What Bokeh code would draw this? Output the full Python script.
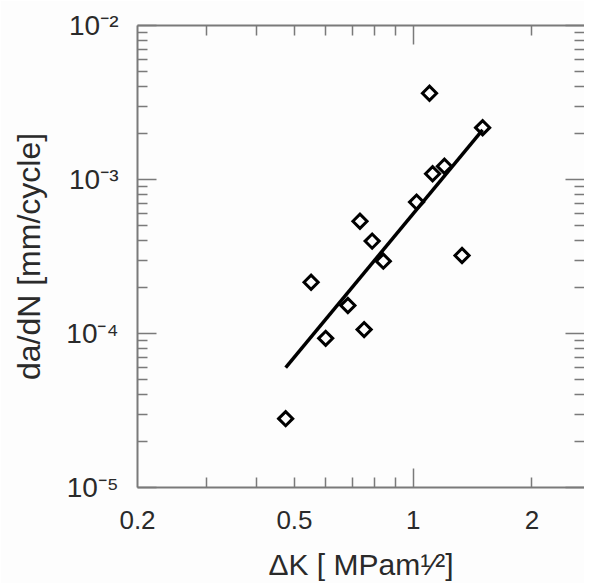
import numpy as np
from bokeh.plotting import figure
from bokeh.models import Range1d, LogAxis, FixedTicker
from bokeh.embed import file_html
from bokeh.resources import INLINE

# ---- data ----
delta_K = [0.475, 0.551, 0.600, 0.683, 0.733, 0.751, 0.787, 0.840,
           1.02, 1.10, 1.12, 1.20, 1.33, 1.50]
da_dN = [2.8e-5, 2.15e-4, 9.3e-5, 1.52e-4, 5.36e-4, 1.06e-4, 3.98e-4, 2.95e-4,
         7.13e-4, 3.63e-3, 1.09e-3, 1.22e-3, 3.21e-4, 2.17e-3]
fit_K = [0.475, 1.50]
fit_rate = [6.0e-5, 2.1e-3]

x_label_values = [0.2, 0.5, 1, 2]
x_label_texts = ["0.2", "0.5", "1", "2"]
x_major_ticks = [1]
x_minor_ticks = [0.3, 0.4, 0.5, 0.6, 0.7, 0.8, 0.9, 2]
y_exponents = [-5, -4, -3, -2]
y_label_texts = ["10\u207b\u2075", "10\u207b\u2074", "10\u207b\u00b3", "10\u207b\u00b2"]
y_mantissas = [2, 3, 4, 5, 6, 7, 8, 9]
x_title = "\u0394K [ MPam\u00b9\u2044\u00b2]"
y_title = "da/dN [mm/cycle]"

# ---- layout ----
FONT = "Liberation Sans"
TXT = "#2a2a2a"
AX = "#7a7a7a"
BG = "#fdfdfd"
FW, FH = 447, 462
DECADE_PX = 394.4
x_end = 0.2 * 10 ** (FW / DECADE_PX)

p = figure(width=584, height=576, frame_width=FW, frame_height=FH,
           x_axis_type="log", y_axis_type="log",
           x_range=Range1d(0.2, x_end), y_range=Range1d(1e-5, 1e-2),
           output_backend="svg", toolbar_location=None,
           min_border_left=137, min_border_top=25, min_border_bottom=89,
           min_border_right=0)
p.background_fill_color = BG
p.border_fill_color = BG
p.outline_line_color = None
p.grid.visible = False

y_major = [10.0 ** e for e in y_exponents]
y_minor = [m * 10.0 ** e for e in y_exponents[:-1] for m in y_mantissas]


def tick_axis(ax, line=True):
    ax.axis_line_color = AX if line else None
    ax.axis_line_width = 2
    ax.major_tick_line_color = AX
    ax.minor_tick_line_color = AX
    ax.major_tick_line_width = 1.5
    ax.minor_tick_line_width = 1.5
    ax.major_tick_in = 19
    ax.major_tick_out = 0
    ax.minor_tick_in = 10
    ax.minor_tick_out = 0
    ax.major_label_text_font_size = "1px"
    ax.major_label_text_color = None
    ax.major_label_standoff = 0


def label_axis(ax, size, standoff):
    ax.axis_line_color = None
    ax.major_tick_line_color = None
    ax.minor_tick_line_color = None
    ax.major_tick_in = 0
    ax.major_tick_out = 0
    ax.minor_tick_in = 0
    ax.minor_tick_out = 0
    ax.major_label_text_font = FONT
    ax.major_label_text_font_size = size
    ax.major_label_text_color = TXT
    ax.major_label_standoff = standoff
    ax.axis_label_text_font = FONT
    ax.axis_label_text_font_style = "normal"
    ax.axis_label_text_color = TXT


p.xaxis[0].ticker = FixedTicker(ticks=x_major_ticks, minor_ticks=x_minor_ticks)
p.yaxis[0].ticker = FixedTicker(ticks=y_major, minor_ticks=y_minor)
tick_axis(p.xaxis[0])
tick_axis(p.yaxis[0])
top = LogAxis(ticker=FixedTicker(ticks=x_major_ticks, minor_ticks=x_minor_ticks))
right = LogAxis(ticker=FixedTicker(ticks=y_major, minor_ticks=y_minor))
tick_axis(top)
tick_axis(right, line=False)
p.add_layout(top, "above")
p.add_layout(right, "right")

# label-only axes sharing the same scales
xlab = LogAxis(ticker=FixedTicker(ticks=x_label_values, minor_ticks=[]))
label_axis(xlab, "26px", 23)
xlab.major_label_overrides = dict(zip(x_label_values, x_label_texts))
xlab.axis_label = x_title
xlab.axis_label_text_font_size = "30px"
xlab.axis_label_standoff = 16
p.add_layout(xlab, "below")

ylab = LogAxis(ticker=FixedTicker(ticks=y_major, minor_ticks=[]))
label_axis(ylab, "28px", 19)
ylab.major_label_overrides = dict(zip(y_major, y_label_texts))
ylab.axis_label = y_title
ylab.axis_label_text_font_size = "32px"
ylab.axis_label_standoff = 16
p.add_layout(ylab, "left")

# ---- marks ----
p.line(fit_K, fit_rate, line_color="black", line_width=3.5)
p.scatter(delta_K, da_dN, marker="square", angle=np.pi / 4, size=10,
          line_color="black", line_width=3, fill_color=None, line_join="miter")

open("out.html", "w").write(file_html(p, INLINE))
